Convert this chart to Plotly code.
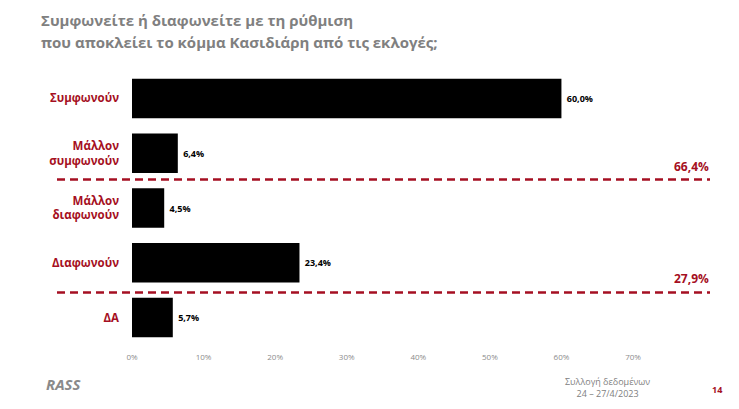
import plotly.graph_objects as go

categories = ["Συμφωνούν", "Μάλλον<br>συμφωνούν", "Μάλλον<br>διαφωνούν", "Διαφωνούν", "ΔΑ"]
values = [60.0, 6.4, 4.5, 23.4, 5.7]
group_labels = ["66,4%", "27,9%"]
group_positions = [1.48, 3.54]
tick_vals = [0, 10, 20, 30, 40, 50, 60, 70]
tick_text = [f"{v}%" for v in tick_vals]
title_lines = ["Συμφωνείτε ή διαφωνείτε με τη ρύθμιση",
               "που αποκλείει το κόμμα Κασιδιάρη από τις εκλογές;"]

RED = "#a50f22"
GRAY = "#808080"
FONT = "Open Sans"

# page body has an 8px margin: lay out in screen pixels and convert
OFF = 8
W, H = 739 - 2 * OFF, 409 - 2 * OFF
L = 132 - OFF
R = W - (633 - OFF)
T = 71 - OFF
B = H - (345.5 - OFF)
PW, PH = W - L - R, H - T - B


def px(sx):
    return (sx - OFF - L) / PW


def py(sy):
    return 1 - (sy - OFF - T) / PH


fig = go.Figure()
fig.add_trace(go.Bar(
    x=values, y=categories, orientation="h",
    marker=dict(color="black", line=dict(width=0)),
    width=0.72,
    texttemplate=" %{x:.1f}%", textposition="outside",
    textfont=dict(family=FONT, size=9, color="black", weight="bold"),
    cliponaxis=False,
))

for pos, lab in zip(group_positions, group_labels):
    fig.add_shape(type="line", xref="paper", yref="y", x0=px(57), x1=px(710),
                  y0=pos, y1=pos, line=dict(color=RED, width=2.5, dash="8px,5px"))
    fig.add_annotation(xref="paper", yref="y", x=px(711), y=pos, text=f"<b>{lab}</b>",
                       showarrow=False, xanchor="right", yanchor="bottom", yshift=3,
                       font=dict(family=FONT, size=12, color=RED))

for line, sy in zip(title_lines, [20, 42]):
    fig.add_annotation(xref="paper", yref="paper", x=px(39), y=py(sy),
                       text=f"<b>{line}</b>", showarrow=False,
                       xanchor="left", yanchor="middle", align="left",
                       font=dict(family=FONT, size=15, color=GRAY))

fig.update_layout(
    width=W, height=H,
    margin=dict(l=L, r=R, t=T, b=B),
    paper_bgcolor="white", plot_bgcolor="white",
    separators=",.",
    showlegend=False,
    xaxis=dict(range=[0, 70], tickvals=tick_vals, ticktext=tick_text,
               showgrid=False, zeroline=False, showline=False,
               tickfont=dict(family=FONT, size=8, color="#8c8c8c"), ticks="",
               ticklabelstandoff=6),
    yaxis=dict(autorange=False, range=[4.5, -0.5], showgrid=False, zeroline=False,
               showline=False, ticks="", ticklabelstandoff=12,
               tickfont=dict(family=FONT, size=11.5, color=RED, weight="bold")),
)

fig.add_annotation(xref="paper", yref="paper", x=px(44), y=py(385), text="<i><b>RASS</b></i>",
                   showarrow=False, xanchor="left", yanchor="middle",
                   font=dict(family=FONT, size=15, color="#8a8a8a"))
fig.add_annotation(xref="paper", yref="paper", x=px(607), y=py(388),
                   text="Συλλογή δεδομένων<br>24 – 27/4/2023", showarrow=False,
                   xanchor="center", yanchor="middle", align="center",
                   font=dict(family=FONT, size=9, color=GRAY))
fig.add_annotation(xref="paper", yref="paper", x=px(717), y=py(390), text="<b>14</b>",
                   showarrow=False, xanchor="center", yanchor="middle",
                   font=dict(family=FONT, size=9, color=RED))

fig.write_html("out.html")
